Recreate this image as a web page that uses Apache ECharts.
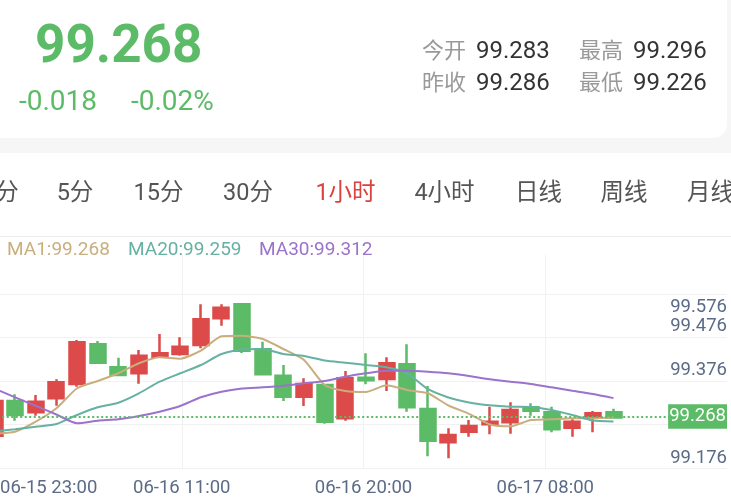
<!DOCTYPE html>
<html><head><meta charset="utf-8">
<script src="https://cdn.jsdelivr.net/npm/echarts@6/dist/echarts.min.js"></script>
<style>html,body{margin:0;padding:0;background:#f6f6f6;overflow:hidden;}#c{position:absolute;left:-16px;top:0;width:747px;height:502px;}</style>
</head><body><div id="c"></div>
<script>
// ---------- data ----------
const times = ['06-15 23:00','06-16 03:00','06-16 04:00','06-16 05:00','06-16 06:00','06-16 07:00','06-16 08:00','06-16 09:00','06-16 10:00','06-16 11:00',
  '06-16 12:00','06-16 13:00','06-16 14:00','06-16 15:00','06-16 16:00','06-16 17:00','06-16 18:00','06-16 19:00','06-16 20:00','06-16 21:00',
  '06-16 22:00','06-16 23:00','06-17 03:00','06-17 04:00','06-17 05:00','06-17 06:00','06-17 07:00','06-17 08:00','06-17 09:00','06-17 10:00','06-17 11:00'];
const opens  = [99.2266,99.3055,99.2798,99.3116,99.3441,99.4344,99.3821,99.3685,99.4062,99.4123,99.4328,99.4935,99.5253,99.4230,99.3630,99.3153,99.3419,99.2662,99.3585,99.3555,99.3889,99.2873,99.2116,99.2357,99.2525,99.2571,99.2912,99.2798,99.2448,99.2698,99.2798];
const closes = [99.3055,99.2737,99.3039,99.3480,99.4389,99.3925,99.3646,99.4085,99.4139,99.4289,99.4912,99.5175,99.4198,99.3662,99.3153,99.3441,99.2585,99.3571,99.3525,99.3912,99.2912,99.2153,99.2282,99.2487,99.2585,99.2850,99.2835,99.2412,99.2585,99.2775,99.2680];
const lows   = [99.2169,99.2607,99.2721,99.2948,99.3380,99.3907,99.3635,99.3448,99.4055,99.4085,99.4253,99.4766,99.4146,99.3657,99.3055,99.2941,99.2539,99.2607,99.3435,99.3282,99.2812,99.1798,99.1753,99.2244,99.2298,99.2312,99.2721,99.2344,99.2244,99.2344,99.2675];
const highs  = [99.3146,99.3207,99.3191,99.3548,99.4441,99.4419,99.4039,99.4214,99.4578,99.4503,99.5253,99.5253,99.5275,99.4403,99.3873,99.3571,99.3430,99.3737,99.4139,99.4048,99.4344,99.3396,99.2435,99.2623,99.2925,99.3025,99.3003,99.2925,99.2639,99.2828,99.2880];
const ma1  = [99.2316,99.2357,99.2585,99.2889,99.3344,99.3510,99.3685,99.3912,99.4048,99.4016,99.4198,99.4525,99.4537,99.4464,99.4237,99.3987,99.3419,99.3282,99.3260,99.3412,99.3305,99.3230,99.2953,99.2764,99.2521,99.2480,99.2623,99.2639,99.2662,99.2662,99.2680];
const ma20 = [99.2362,99.2412,99.2471,99.2532,99.2737,99.2912,99.3016,99.3230,99.3494,99.3685,99.3873,99.4123,99.4230,99.4237,99.4123,99.4078,99.3975,99.3925,99.3873,99.3821,99.3685,99.3328,99.3135,99.3021,99.2957,99.2925,99.2919,99.2850,99.2737,99.2612,99.2590];
const ma30 = [99.3335,99.3139,99.2944,99.2748,99.2548,99.2607,99.2639,99.2714,99.2812,99.2941,99.3139,99.3266,99.3339,99.3366,99.3403,99.3457,99.3510,99.3607,99.3685,99.3744,99.3744,99.3721,99.3685,99.3623,99.3548,99.3494,99.3441,99.3366,99.3289,99.3214,99.3120];
const yTickValues = [99.176, 99.276, 99.376, 99.476];
const yTopLabel = '99.576';
const xLabelIndex = [0, 9, 18, 27];
const tabs = ['分','5分','15分','30分','1小时','4小时','日线','周线','月线'];
const activeTab = '1小时';
const change = '-0.018';
const changePct = '-0.02%';
const statNames  = ['今开','最高','昨收','最低'];
const statValues = ['99.283','99.296','99.286','99.226'];
const emptySlots = 5;

// ---------- styles / layout ----------
const OX = 16; // chart canvas starts 16px left of the page
const GREEN = '#5cbb66', RED = '#dc4a4a';
const C_MA1 = '#c9ae7e', C_MA20 = '#66b1a2', C_MA30 = '#9b72cc';
const AXIS_C = '#5b6b87';
const F = 'Roboto, "Noto Sans CJK SC", sans-serif';
const last = closes[closes.length - 1];

const cats = times.concat(new Array(emptySlots).fill(''));
const kdata = opens.map((o, i) => [o, closes[i], lows[i], highs[i]]);

const tabCenters = [7, 75, 158.5, 248, 345.5, 444.5, 538.5, 624, 710.5];
const g = [];
g.push({type:'rect', z:-10, shape:{x:OX-20,y:-30,width:747,height:168,r:14}, style:{fill:'#fff'}});
g.push({type:'rect', z:-10, shape:{x:OX,y:153,width:731,height:83}, style:{fill:'#fff'}});
g.push({type:'rect', z:-10, shape:{x:OX,y:236,width:731,height:1}, style:{fill:'#ececec'}});
g.push({type:'rect', z:-10, shape:{x:OX,y:237,width:731,height:265}, style:{fill:'#fff'}});
g.push({type:'text', z:10, x:OX+35, y:49, style:{text: last.toFixed(3), fill:GREEN, font:'bold 53px '+F, verticalAlign:'middle'}});
g.push({type:'text', z:10, x:OX+19, y:103, style:{text: change, fill:GREEN, font:'28px '+F, verticalAlign:'middle'}});
g.push({type:'text', z:10, x:OX+131, y:103, style:{text: changePct, fill:GREEN, font:'28px '+F, verticalAlign:'middle'}});
const statPos = [[422,52],[579,52],[422,84],[579,84]];
statNames.forEach((n, i) => {
  g.push({type:'text', z:10, x:OX+statPos[i][0], y:statPos[i][1], style:{text:n, fill:'#999', font:'22px '+F, verticalAlign:'middle'}});
  g.push({type:'text', z:10, x:OX+statPos[i][0]+54, y:statPos[i][1], style:{text:statValues[i], fill:'#333', font:'24px '+F, verticalAlign:'middle'}});
});
tabs.forEach((t, i) => {
  g.push({type:'text', z:10, x:OX+tabCenters[i], y:194, style:{text:t, fill: t === activeTab ? '#d9433f' : '#555', font:'23.5px '+F, align:'center', verticalAlign:'middle'}});
});
const legendItems = [['MA1', ma1, C_MA1, 7], ['MA20', ma20, C_MA20, 128], ['MA30', ma30, C_MA30, 259]];
legendItems.forEach(([n, arr, c, x]) => {
  g.push({type:'text', z:10, x:OX+x, y:250, style:{text: n + ':' + arr[arr.length-1].toFixed(3), fill:c, font:'19px '+F, verticalAlign:'middle'}});
});

const chart = echarts.init(document.getElementById('c'), null, {renderer:'canvas'});
chart.setOption({
  animation: false,
  backgroundColor: '#f6f6f6',
  graphic: g,
  grid: [
    {left: OX - 15.8, right: 4, top: 294, bottom: 34},
    {left: OX, right: 4, top: 255, bottom: 34}
  ],
  xAxis: [
    {type:'category', gridIndex:0, data: cats, boundaryGap:true, show:false},
    {type:'value', gridIndex:1, min:0, max:4, interval:1,
     axisLine:{show:false}, axisTick:{show:false},
     splitLine:{show:true, showMinLine:false, showMaxLine:false, lineStyle:{color:'#f1f1f1', width:1}},
     axisLabel:{color:AXIS_C, fontSize:18.5, fontFamily:F, margin:11, alignMinLabel:'left',
       formatter: v => (v < xLabelIndex.length ? times[xLabelIndex[v]] : '')}}
  ],
  yAxis: [
    {type:'value', gridIndex:0, position:'right', min:99.1532, max:99.5487,
     axisLine:{show:false}, axisTick:{show:false}, splitLine:{show:false},
     axisLabel:{inside:true, margin:0, color:AXIS_C, fontSize:18.5, fontFamily:F, customValues: yTickValues,
       formatter: v => v.toFixed(3)}},
    {type:'value', gridIndex:0, position:'right', min:0, max:4, interval:1,
     axisLine:{show:false}, axisTick:{show:false},
     splitLine:{show:true, lineStyle:{color:'#f1f1f1', width:1}},
     axisLabel:{inside:true, margin:0, color:AXIS_C, fontSize:18.5, fontFamily:F, verticalAlign:'top', padding:[4,0,0,0],
       formatter: v => (v === 4 ? yTopLabel : '')}},
    {type:'value', gridIndex:1, show:false, min:0, max:1}
  ],
  series: [
    {type:'candlestick', xAxisIndex:0, yAxisIndex:0, data:kdata, barWidth:15.5,
     itemStyle:{color:RED, color0:GREEN, borderColor:RED, borderColor0:GREEN, borderWidth:2.5},
     markLine:{silent:true, symbol:['none','none'], animation:false,
       lineStyle:{color:GREEN, type:[2,2.5], width:2},
       label:{position:'insideEndTop', distance:0, align:'right', verticalAlign:'middle',
         color:'#fff', fontSize:18.5, fontFamily:F, backgroundColor:GREEN, padding:[4,1,2,1],
         formatter: () => last.toFixed(3)},
       data:[{yAxis:last}]}},
    {type:'line', xAxisIndex:0, yAxisIndex:0, data:ma1, symbol:'none', smooth:0.2, lineStyle:{color:C_MA1, width:2}},
    {type:'line', xAxisIndex:0, yAxisIndex:0, data:ma20, symbol:'none', smooth:0.2, lineStyle:{color:C_MA20, width:2}},
    {type:'line', xAxisIndex:0, yAxisIndex:0, data:ma30, symbol:'none', smooth:0.2, lineStyle:{color:C_MA30, width:2}}
  ]
});
</script></body></html>
